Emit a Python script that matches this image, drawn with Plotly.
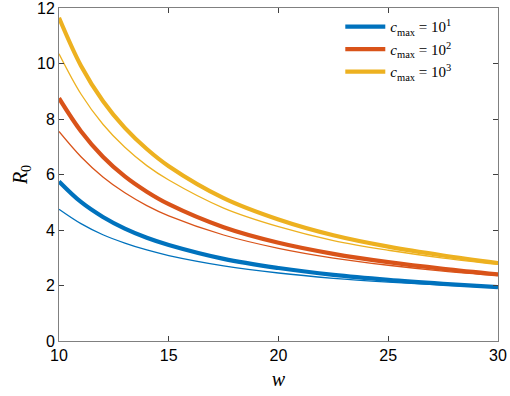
import plotly.graph_objects as go

w = [10, 11, 12, 13, 14, 15, 17.5, 20, 22.5, 25, 27.5, 30]

blue_thick = [5.75, 5.01, 4.47, 4.05, 3.72, 3.46, 2.96, 2.63, 2.38, 2.20, 2.06, 1.94]
blue_thin = [4.75, 4.23, 3.83, 3.53, 3.28, 3.08, 2.71, 2.45, 2.26, 2.12, 2.01, 1.92]
red_thick = [8.75, 7.56, 6.64, 5.93, 5.38, 4.93, 4.10, 3.54, 3.14, 2.84, 2.60, 2.40]
red_thin = [7.55, 6.64, 5.91, 5.34, 4.88, 4.51, 3.82, 3.34, 2.99, 2.73, 2.52, 2.36]
yellow_thick = [11.65, 9.92, 8.65, 7.68, 6.92, 6.30, 5.15, 4.38, 3.81, 3.40, 3.08, 2.81]
yellow_thin = [10.35, 8.90, 7.81, 6.98, 6.32, 5.80, 4.79, 4.12, 3.62, 3.27, 2.99, 2.76]

labels = ["<i>c</i><sub>max</sub> = 10<sup>1</sup>",
          "<i>c</i><sub>max</sub> = 10<sup>2</sup>",
          "<i>c</i><sub>max</sub> = 10<sup>3</sup>"]
colors = ["#0072BD", "#D95319", "#EDB120"]

fig = go.Figure()
thick = [blue_thick, red_thick, yellow_thick]
thin = [blue_thin, red_thin, yellow_thin]
for ys, c, lab in zip(thick, colors, labels):
    fig.add_trace(go.Scatter(x=w, y=ys, mode="lines", name=lab,
                             line=dict(color=c, width=4.2, shape="spline", smoothing=1.0)))
for ys, c in zip(thin, colors):
    fig.add_trace(go.Scatter(x=w, y=ys, mode="lines", showlegend=False,
                             line=dict(color=c, width=1.3, shape="spline", smoothing=1.0)))

axis_common = dict(showline=True, linecolor="#808080", linewidth=1, mirror="ticks",
                   ticks="inside", ticklen=5, tickcolor="#404040",
                   showgrid=False, zeroline=False, automargin=False,
                   ticklabeloverflow="allow",
                   tickfont=dict(family="Liberation Sans, Arial, sans-serif", size=16, color="black"))

fig.update_layout(
    width=510, height=396,
    margin=dict(l=59, r=12, t=8, b=55),
    plot_bgcolor="white", paper_bgcolor="white",
    xaxis=dict(range=[10, 30], tickvals=[10, 15, 20, 25, 30],
               title=dict(text="<i>w</i>", font=dict(family="Liberation Serif, serif", size=20, color="black"), standoff=8),
               **axis_common),
    yaxis=dict(range=[0, 12], tickvals=[0, 2, 4, 6, 8, 10, 12],
               title=dict(text="<i>R</i><sub>0</sub>", font=dict(family="Liberation Serif, serif", size=20, color="black"), standoff=4),
               **axis_common),
    legend=dict(x=0.905, y=0.993, xanchor="right", yanchor="top",
                bgcolor="rgba(255,255,255,0)",
                font=dict(family="Liberation Serif, serif", size=15, color="black"),
                itemwidth=40, tracegroupgap=0),
    showlegend=True,
)

fig.write_html("out.html", config={"displayModeBar": False},
               post_script="document.body.style.margin='0';")
